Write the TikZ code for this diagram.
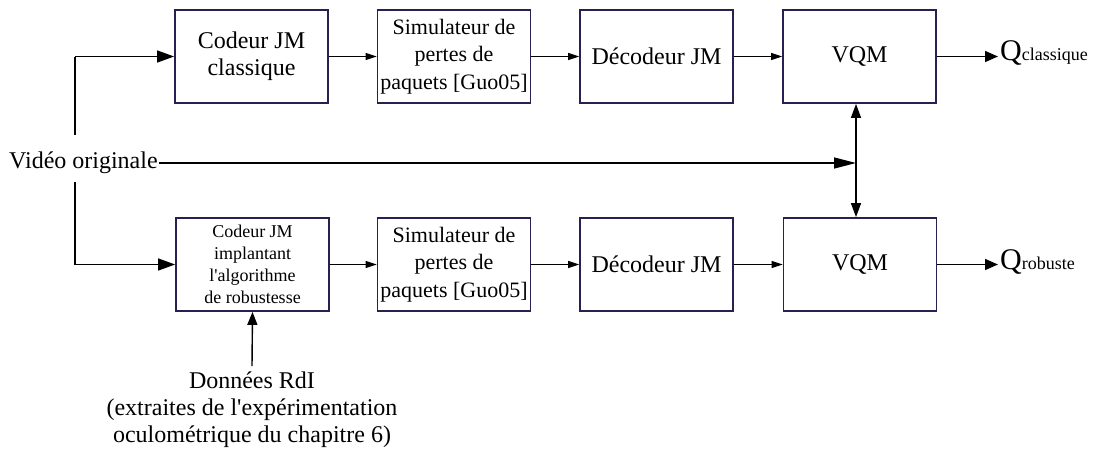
\documentclass[tikz,border=0pt]{standalone}
\usepackage{fontspec}
\setmainfont{Liberation Serif}[Ligatures=TeXOff]
\usetikzlibrary{arrows.meta}
\definecolor{boxc}{RGB}{40,32,80}
\tikzset{
  blk/.style={draw=boxc, line width=1.8pt, minimum width=153pt, minimum height=93pt, inner sep=1pt, align=center},
  fA/.style={font=\fontsize{24}{27}\selectfont},
  fB/.style={font=\fontsize{22}{27.5}\selectfont},
  fC/.style={font=\fontsize{18}{22}\selectfont},
  thin/.style={line width=1pt, -{Triangle[length=11pt,width=7pt]}},
  thick/.style={line width=1.4pt, -{Triangle[length=17pt,width=12pt]}},
  plain/.style={line width=1.4pt}
}
\begin{document}
\begin{tikzpicture}[x=1pt,y=-1pt]
\useasboundingbox (0,0) rectangle (1095,453);
% top row
\node[blk,fA] (cod1) at (251.5,56.5) {Codeur JM\\classique};
\node[blk,fB] (sim1) at (454,56.5) {Simulateur de\\pertes de\\paquets [Guo05]};
\node[blk,fA] (dec1) at (656.5,56.5) {Décodeur JM};
\node[blk,fA] (vqm1) at (859.5,56.5) {VQM};
% bottom row
\node[blk,fC] (cod2) at (252.5,264.5) {Codeur JM\\implantant\\l'algorithme\\de robustesse};
\node[blk,fB] (sim2) at (454,264.5) {Simulateur de\\pertes de\\paquets [Guo05]};
\node[blk,fA] (dec2) at (656.5,264.5) {Décodeur JM};
\node[blk,fA] (vqm2) at (860,264.5) {VQM};
% labels
\node[fA, anchor=west, inner sep=1pt] (vid) at (8,163) {Vidéo originale};
\node[anchor=west, inner sep=2pt, font=\fontsize{30}{30}\selectfont] (qc) at (998,53) {Q{\fontsize{18}{18}\selectfont classique}};
\node[anchor=west, inner sep=2pt, font=\fontsize{30}{30}\selectfont] (qr) at (998,262) {Q{\fontsize{18}{18}\selectfont robuste}};
\node[fA, align=center, anchor=north, inner sep=0pt, font=\fontsize{24}{27}\selectfont] (don) at (252,372) {Données RdI\\(extraites de l'expérimentation\\oculométrique du chapitre 6)};
% coordinates
\coordinate (vt) at (75,135);
\coordinate (vb) at (75,182);
\coordinate (J) at (856,162);
% connectors
\draw[plain] (vt) -- (vt |- cod1.west);
\draw[thick] (vt |- cod1.west) -- (cod1.west);
\draw[plain] (vb) -- (vb |- cod2.west);
\draw[thick] (vb |- cod2.west) -- (cod2.west);
\draw[thin] (cod1) -- (sim1);
\draw[thin] (sim1) -- (dec1);
\draw[thin] (dec1) -- (vqm1);
\draw[thin] (cod2) -- (sim2);
\draw[thin] (sim2) -- (dec2);
\draw[thin] (dec2) -- (vqm2);
\draw[line width=1.4pt, -{Triangle[length=22pt,width=11pt]}] (vid.east) -- (vid.east -| J);
\draw[line width=1.4pt, {Triangle[length=14pt,width=10pt]}-{Triangle[length=14pt,width=10pt]}] (vqm1.south -| J) -- (vqm2.north -| J);
\draw[line width=1.4pt, -{Triangle[length=13pt,width=11pt]}] (vqm1.east) -- (qc.west |- vqm1.east);
\draw[line width=1.4pt, -{Triangle[length=13pt,width=11pt]}] (vqm2.east) -- (qr.west |- vqm2.east);
\draw[line width=1.4pt, -{Triangle[length=13pt,width=10pt]}] (don.north) ++(0,-6) -- (cod2.south);
\end{tikzpicture}
\end{document}
